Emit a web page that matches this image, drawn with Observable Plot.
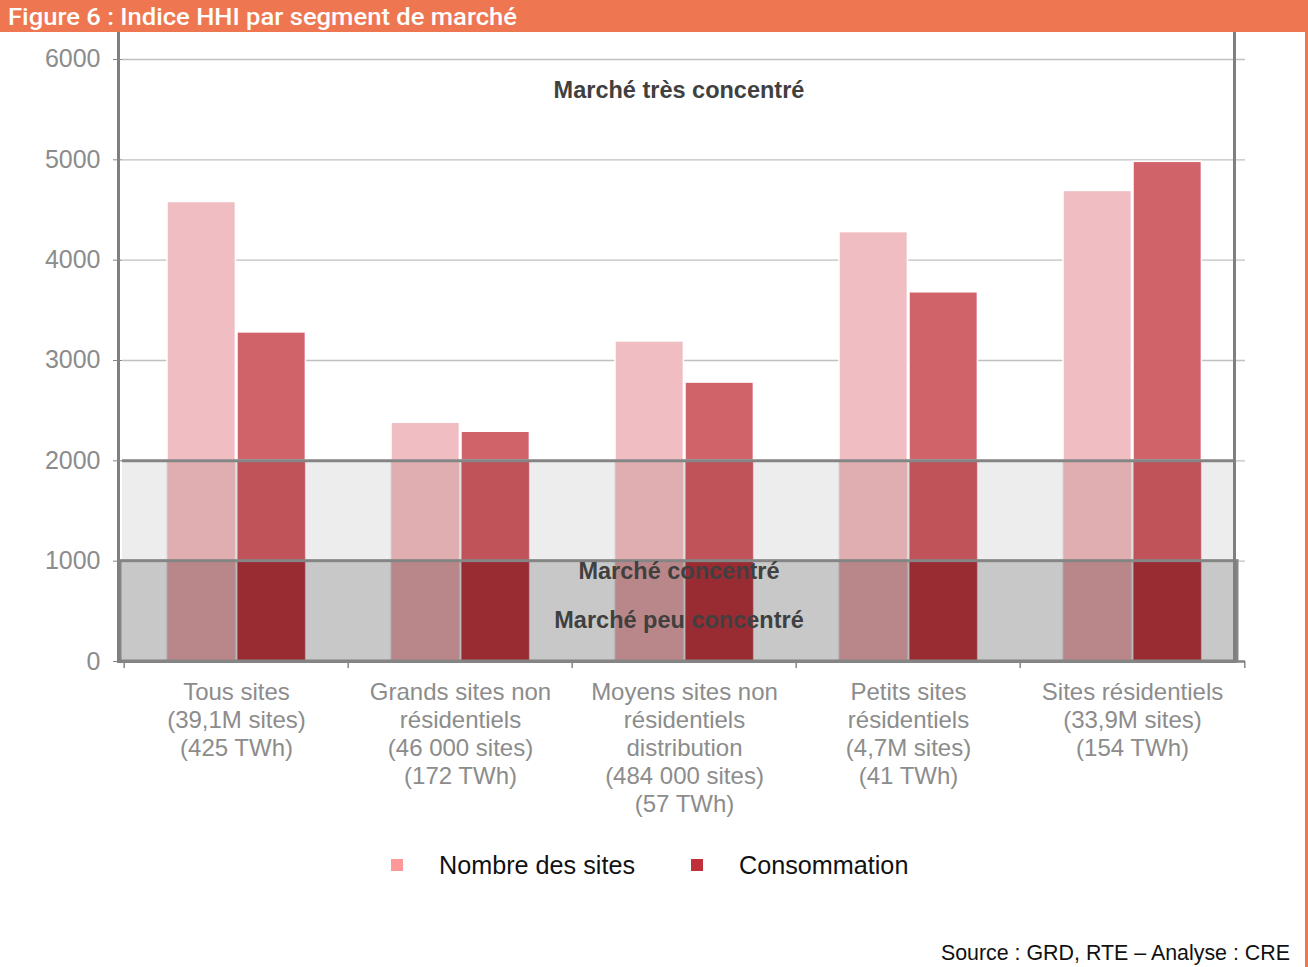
<!DOCTYPE html>
<html>
<head>
<meta charset="utf-8">
<script src="https://cdn.jsdelivr.net/npm/d3@7"></script>
<script src="https://cdn.jsdelivr.net/npm/@observablehq/plot@0.6"></script>
<style>
  html, body { margin: 0; padding: 0; background: #fff; }
  #wrap { position: relative; width: 1308px; height: 967px; overflow: hidden; font-family: "Liberation Sans", Arial, sans-serif; }
  #title { position: absolute; left: 0; top: 0; width: 1308px; height: 32px; background: #ee7751; z-index: 5; }
  #titleText { position: absolute; left: 8px; top: 0; color: #fff; font-family: Roboto, "Liberation Sans", sans-serif;
           font-weight: 500; font-size: 24px; line-height: 34px; white-space: nowrap; transform-origin: 0 50%; }
  #rborder { position: absolute; right: 0; top: 0; width: 3px; height: 967px; background: #ee7751; z-index: 6; }
  #chart { position: absolute; left: 0; top: 29px; }
  .leg { position: absolute; top: 851px; height: 28px; line-height: 28px; font-size: 25.2px; color: #111; white-space: nowrap; }
  .sw { position: absolute; width: 12px; height: 12px; top: 859px; }
  #source { position: absolute; right: 18px; top: 941px; font-size: 21.4px; color: #111; white-space: nowrap; }
</style>
</head>
<body>
<div id="wrap">
  <div id="title"><span id="titleText">Figure 6 : Indice HHI par segment de marché</span></div>
  <div id="rborder"></div>
  <div id="chart"></div>
  <div id="legend"></div>
  <div id="source">Source : GRD, RTE – Analyse : CRE</div>
</div>
<script>
// ---------- data ----------
const categories = [
  "Tous sites\n(39,1M sites)\n(425 TWh)",
  "Grands sites non\nrésidentiels\n(46 000 sites)\n(172 TWh)",
  "Moyens sites non\nrésidentiels\ndistribution\n(484 000 sites)\n(57 TWh)",
  "Petits sites\nrésidentiels\n(4,7M sites)\n(41 TWh)",
  "Sites résidentiels\n(33,9M sites)\n(154 TWh)"
];
const seriesNames = ["Nombre des sites", "Consommation"];
const nombreSites = [4580, 2380, 3190, 4280, 4690];
const consommation = [3280, 2290, 2780, 3680, 4980];
const yTicks = [0, 1000, 2000, 3000, 4000, 5000, 6000];
const zoneNames = ["Marché peu concentré", "Marché concentré", "Marché très concentré"];
const zoneLower = [0, 1000, 2000];
const zoneUpper = [1000, 2000, 6000];

// ---------- styles ----------
const barColors = {
  "Nombre des sites": ["#b9878a", "#e0adb0", "#f0bec2"],
  "Consommation": ["#992b33", "#c0535a", "#d0626a"]
};
const legendColors = {"Nombre des sites": "#ff9999", "Consommation": "#c0303a"};

const W = 1308, H = 820, ML = 122, MR = 63, MB = 188;
const yMax = 6299;
const bw = (W - ML - MR) / categories.length;

// ---------- derived tables ----------
const seriesValues = {"Nombre des sites": nombreSites, "Consommation": consommation};
const segments = [];
seriesNames.forEach(s => {
  categories.forEach((c, i) => {
    const v = seriesValues[s][i];
    zoneNames.forEach((z, k) => {
      const lo = zoneLower[k];
      const hi = k === zoneNames.length - 1 ? Infinity : zoneUpper[k];
      if (v > lo) segments.push({cat: c, series: s, zone: k, y1: lo, y2: Math.min(v, hi), fill: barColors[s][k]});
    });
  });
});
const zones = zoneNames.map((z, k) => ({label: z, y1: zoneLower[k], y2: zoneUpper[k]}));

const inset = {
  "Nombre des sites": {insetLeft: 43, insetRight: bw - 112},
  "Consommation": {insetLeft: 113, insetRight: bw - 182}
};

function barsFor(s, topOnly) {
  const data = segments.filter(d => d.series === s && (topOnly ? d.zone === 2 : d.zone < 2));
  return Plot.barY(data, {
    x: "cat", y1: "y1", y2: "y2", fill: "fill",
    stroke: topOnly ? "#fff" : (d => d.zone === 0 ? "#a8a8a8" : "#d6d6d6"),
    strokeWidth: topOnly ? 1.5 : 1,
    ...inset[s]
  });
}

const chart = Plot.plot({
  width: W, height: H,
  marginLeft: ML, marginRight: MR, marginTop: 0, marginBottom: MB,
  style: {background: "transparent", fontFamily: "'Liberation Sans', Arial, sans-serif", overflow: "visible"},
  x: {domain: categories, padding: 0, axis: null},
  y: {domain: [0, yMax], axis: null},
  marks: [
    // gridlines
    Plot.ruleY(yTicks, {stroke: "#c0c0c0", strokeWidth: 1.3}),
    // zone backgrounds
    Plot.rect(zones.slice(1, 2), {y1: "y1", y2: "y2", fill: "#ededed", insetRight: 11}),
    Plot.rect(zones.slice(0, 1), {y1: "y1", y2: "y2", fill: "#c8c8c8", insetLeft: -2, insetRight: 8}),
    // bars
    barsFor("Nombre des sites", true),
    barsFor("Consommation", true),
    barsFor("Nombre des sites", false),
    barsFor("Consommation", false),
    // zone borders
    Plot.ruleY([zoneLower[2]], {stroke: "#858585", strokeWidth: 3, insetRight: 11}),
    Plot.rect(zones.slice(0, 1), {y1: "y1", y2: "y2", fill: "none", stroke: "#858585", strokeWidth: 3, insetLeft: -2, insetRight: 8}),
    // axis lines
    Plot.frame({stroke: "#7f7f7f", strokeWidth: 3, insetLeft: -4, insetRight: 11}),
    Plot.ruleY([0], {stroke: "#858585", strokeWidth: 2.5}),
    // category boundary ticks
    Plot.ruleX(categories, {x: d => d, dx: -bw / 2, y1: 0, y2: -70, stroke: "#858585", strokeWidth: 1.5}),
    Plot.ruleX(categories.slice(-1), {x: d => d, dx: bw / 2, y1: 0, y2: -70, stroke: "#858585", strokeWidth: 1.5}),
    // y axis
    Plot.axisY({ticks: yTicks, tickSize: 9, tickPadding: 13, fontSize: 25, color: "#8c8c8c", stroke: "#858585", tickFormat: d => String(d), label: null}),
    // category labels
    Plot.text(categories, {x: d => d, y: 0, dy: 19, text: d => d, lineAnchor: "top", lineHeight: 1.167, fontSize: 24, fill: "#8c8c8c"}),
    // zone labels
    Plot.text(zones.slice(2), {frameAnchor: "top", dy: 61, dx: -5, text: "label", fontSize: 23.5, fontWeight: "bold", fill: "#404040", lineAnchor: "middle"}),
    Plot.text(zones.slice(1, 2), {y: "y1", dy: 10, dx: -5, text: "label", frameAnchor: "middle", fontSize: 23.5, fontWeight: "bold", fill: "#404040", lineAnchor: "middle"}),
    Plot.text(zones.slice(0, 1), {y: d => (d.y1 + d.y2) / 2, dy: 9, dx: -5, text: "label", frameAnchor: "middle", fontSize: 23.5, fontWeight: "bold", fill: "#404040", lineAnchor: "middle"})
  ]
});
document.getElementById("chart").appendChild(chart);

// title width fit
const tt = document.getElementById("titleText");
const tw = tt.getBoundingClientRect().width;
if (tw > 0) tt.style.transform = `scaleX(${509 / tw})`;

// legend
const legend = document.getElementById("legend");
const legPos = [{sw: 391, tx: 439}, {sw: 691, tx: 739}];
seriesNames.forEach((s, i) => {
  const sw = document.createElement("div");
  sw.className = "sw";
  sw.style.left = legPos[i].sw + "px";
  sw.style.background = legendColors[s];
  legend.appendChild(sw);
  const t = document.createElement("div");
  t.className = "leg";
  t.style.left = legPos[i].tx + "px";
  t.textContent = s;
  legend.appendChild(t);
});
</script>
</body>
</html>
